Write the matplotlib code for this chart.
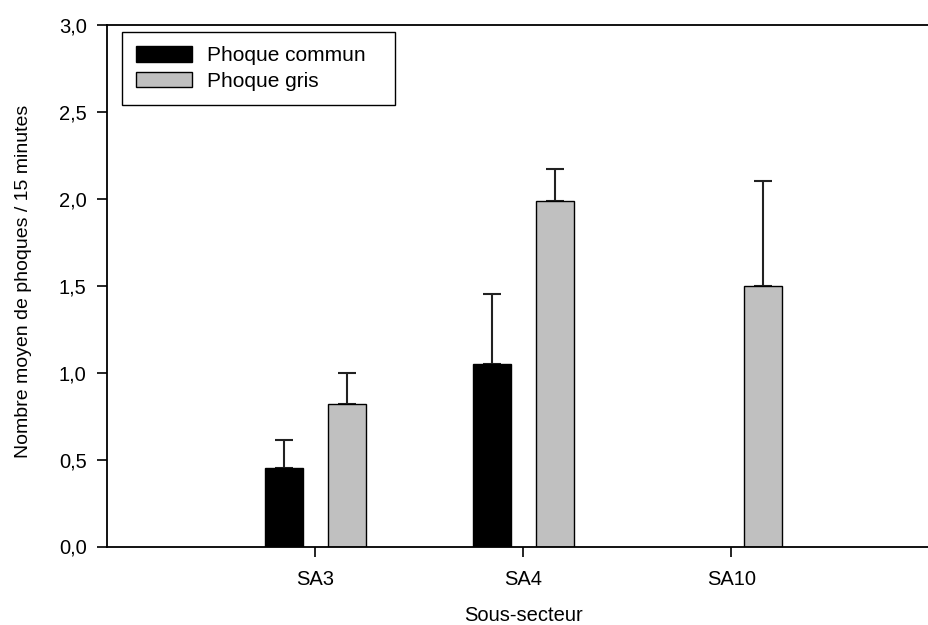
import numpy as np
import matplotlib
matplotlib.use('Agg')
import matplotlib.pyplot as plt
from matplotlib.ticker import FuncFormatter

plt.rcParams['font.family'] = ['Liberation Sans', 'DejaVu Sans']

secteurs = ['SA3', 'SA4', 'SA10']
commun = [0.45, 1.05, np.nan]
err_commun = [0.16, 0.40, np.nan]
gris = [0.82, 1.99, 1.50]
err_gris = [0.18, 0.18, 0.60]

x = np.arange(len(secteurs))
w = 0.18
dx = 0.151

fig = plt.figure(figsize=(9.29, 6.25), dpi=100)
ax = fig.add_axes([107.5 / 929, 78.5 / 625, 832 / 929, 521.5 / 625])

ax.bar(x - dx, commun, w, color='black', edgecolor='black', linewidth=1, label='Phoque commun', zorder=2)
ax.bar(x + dx, gris, w, color='#c0c0c0', edgecolor='black', linewidth=1, label='Phoque gris', zorder=2)

# barres d'erreur vers le haut seulement
ax.errorbar(x - dx, commun, yerr=[np.zeros(3), err_commun], fmt='none', ecolor='#222222',
            elinewidth=1.5, capsize=6.5, capthick=1.5, zorder=1)
ax.errorbar(x + dx, gris, yerr=[np.zeros(3), err_gris], fmt='none', ecolor='#222222',
            elinewidth=1.5, capsize=6.5, capthick=1.5, zorder=1)

ax.set_xlim(-1, 3)
ax.set_ylim(0, 3)
ax.set_yticks(np.arange(0, 3.01, 0.5))
ax.yaxis.set_major_formatter(FuncFormatter(lambda v, p: f'{v:.1f}'.replace('.', ',')))
ax.set_xticks(x)
ax.set_xticklabels(secteurs)

ax.tick_params(axis='both', direction='out', length=7, width=1.2, labelsize=14.5, colors='black')
ax.tick_params(axis='x', pad=10)
ax.tick_params(axis='y', pad=8)

ax.spines['right'].set_visible(False)
for s in ['left', 'bottom', 'top']:
    ax.spines[s].set_linewidth(1.3)

ax.set_xlabel('Sous-secteur', fontsize=14.5)
ax.set_ylabel('Nombre moyen de phoques / 15 minutes', fontsize=14)
ax.xaxis.set_label_coords(0.5, -0.114)
ax.yaxis.set_label_coords(-0.0905, 0.508)

leg = ax.legend(loc='upper left', bbox_to_anchor=(0.017, 0.853, 0.329, 0.134), mode='expand',
                borderaxespad=0, fancybox=False, shadow=False, framealpha=1,
                edgecolor='black', fontsize=15, handlelength=2.7, handleheight=0.75,
                handletextpad=0.7, labelspacing=0.3, borderpad=0.7)
leg.get_frame().set_linewidth(1.0)

fig.savefig('out.png', dpi=100)
